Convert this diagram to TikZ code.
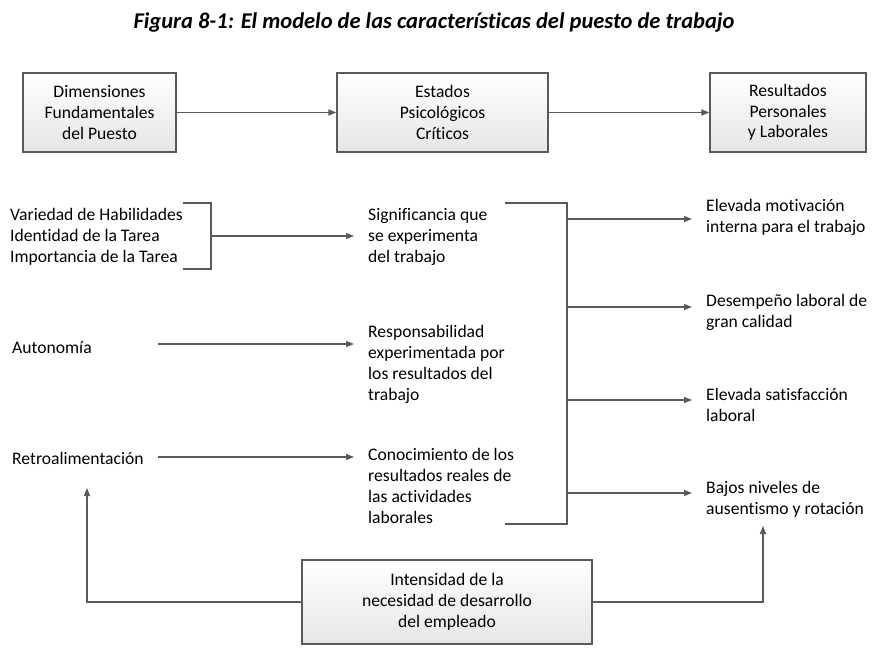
\documentclass[tikz,border=0pt]{standalone}
\usepackage{fontspec}
\setmainfont{Carlito}[Ligatures=NoCommon]
\usetikzlibrary{arrows.meta,shadings}
\definecolor{linec}{RGB}{90,90,90}
\definecolor{boxbot}{RGB}{230,230,230}
\begin{document}
\begin{tikzpicture}[x=1pt,y=-1pt,
  txt/.style={font=\fontsize{17.6}{21}\selectfont, align=left, inner ysep=0pt, inner xsep=14pt, anchor=west},
  ctxt/.style={font=\fontsize{17.6}{20.7}\selectfont, align=center},
  bx/.style={draw=linec, line width=1.1pt, top color=white, bottom color=boxbot, ctxt},
  ln/.style={draw=linec, line width=1.2pt},
  arr/.style={ln, -{Triangle[length=8pt,width=6pt]}}]
\useasboundingbox (0,0) rectangle (881,650);
% title
\node[font=\fontsize{22.5}{26}\selectfont\bfseries\itshape] (title) at (434,23) {Figura 8-1: El modelo de las características del puesto de trabajo};
% top boxes
\node[bx, minimum width=153pt, minimum height=79pt] (b1) at (99.5,112.5) {Dimensiones\\Fundamentales\\del Puesto};
\node[bx, minimum width=211pt, minimum height=79pt] (b2) at (442.5,112.5) {Estados\\Psicológicos\\Críticos};
\node[bx, minimum width=156pt, minimum height=79pt] (b3) at (788,112.5) {Resultados\\Personales\\y Laborales};
\draw[arr] (b1) -- (b2);
\draw[arr] (b2) -- (b3);
% left column
\node[txt, inner xsep=0pt] (dims) at (10,237) {Variedad de Habilidades\\Identidad de la Tarea\\Importancia de la Tarea};
\node[txt, inner xsep=0pt] (auto) at (12,348) {Autonomía};
\node[txt, inner xsep=0pt] (retro) at (12,458) {Retroalimentación};
% middle column
\node[txt] (sig) at (354,237) {Significancia que\\se experimenta\\del trabajo};
\node[txt] (resp) at (354,364) {Responsabilidad\\experimentada por\\los resultados del\\trabajo};
\node[txt] (con) at (354,485.5) {Conocimiento de los\\resultados reales de\\las actividades\\laborales};
% right column
\node[txt] (r1) at (692,217.5) {Elevada motivación\\interna para el trabajo};
\node[txt] (r2) at (692,312) {Desempeño laboral de\\gran calidad};
\node[txt] (r3) at (692,405) {Elevada satisfacción\\laboral};
\node[txt] (r4) at (692,499) {Bajos niveles de\\ausentismo y rotación};
% bottom box
\node[bx, minimum width=290pt, minimum height=84pt] (b4) at (447,602) {Intensidad de la\\necesidad de desarrollo\\del empleado};
% left bracket
\coordinate (lbt) at (183,203);
\coordinate (lbb) at (183,269);
\coordinate (lbm) at (211,236);
\draw[ln] (lbt) -- (211,203) -- (211,269) -- (lbb);
\draw[arr] (lbm) -- (lbm -| sig.west);
% single arrows
\coordinate (a1) at (158,344);
\coordinate (a2) at (158,457);
\draw[arr] (a1) -- (a1 -| resp.west);
\draw[arr] (a2) -- (a2 -| con.west);
% right bracket
\coordinate (rbt) at (505,203);
\coordinate (rbb) at (505,524);
\draw[ln] (rbt) -- (567,203) -- (567,524) -- (rbb);
\coordinate (c1) at (567,219);
\coordinate (c2) at (567,307);
\coordinate (c3) at (567,400);
\coordinate (c4) at (567,493);
\draw[arr] (c1) -- (c1 -| r1.west);
\draw[arr] (c2) -- (c2 -| r2.west);
\draw[arr] (c3) -- (c3 -| r3.west);
\draw[arr] (c4) -- (c4 -| r4.west);
% bottom feedback lines
\coordinate (lt) at (87,488);
\coordinate (rt) at (763,526);
\draw[arr] (b4.west) -| (lt);
\draw[arr] (b4.east) -| (rt);
\end{tikzpicture}
\end{document}
